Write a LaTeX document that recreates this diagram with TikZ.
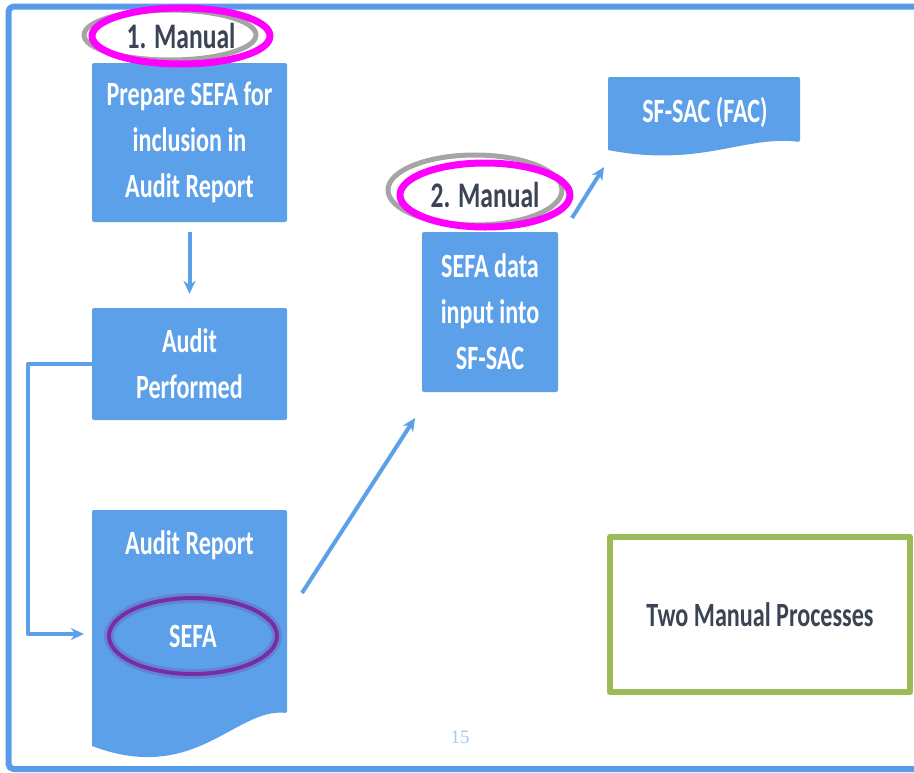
\documentclass[tikz,border=0pt]{standalone}
\usepackage{fontspec}
\setmainfont{Carlito}
\newfontfamily\boxfont[FakeStretch=0.71]{Carlito}
\newfontfamily\numfont{Liberation Serif}
\usetikzlibrary{shapes.geometric,arrows.meta}
\definecolor{boxblue}{RGB}{93,160,234}
\definecolor{frameblue}{RGB}{88,155,232}
\definecolor{inkgray}{RGB}{59,68,84}
\definecolor{ringpink}{RGB}{255,0,255}
\definecolor{ringgray}{RGB}{165,165,165}
\definecolor{ringpurple}{RGB}{118,46,160}
\definecolor{boxgreen}{RGB}{155,187,89}
\definecolor{pagenum}{RGB}{170,200,240}
\begin{document}
\begin{tikzpicture}[x=1pt, y=-1pt, >={Stealth[length=13pt,width=12pt]}, line join=round,
	stepbox/.style={fill=boxblue, rounded corners=2pt, text=white, align=center, inner sep=0,
		font=\boxfont\bfseries\fontsize{34}{46}\selectfont},
	doclabel/.style={text=white, align=center, inner sep=0, font=\boxfont\bfseries\fontsize{34}{46}\selectfont},
	flow/.style={draw=boxblue, line width=4pt},
	shadowring/.style={ellipse, draw=ringgray, line width=5pt, inner sep=0},
	manualring/.style={ellipse, draw=ringpink, line width=7pt, inner sep=0, text=inkgray,
		font=\boxfont\bfseries\fontsize{36}{40}\selectfont}]
	\useasboundingbox (0,0) rectangle (914,772);
	\fill[white] (0,0) rectangle (914,772);
	\draw[frameblue, line width=6pt, rounded corners=5pt] (8.5,6.5) rectangle (940,769);
	
	\node[stepbox, minimum width=195, minimum height=159] (prep) at (189.5,142.5) {Prepare SEFA for\\inclusion in\\Audit Report};
	\node[stepbox, minimum width=195, minimum height=112] (perf) at (189.5,364) {Audit\\Performed};
	\node[stepbox, minimum width=136, minimum height=160] (input) at (490,312) {SEFA data\\input into\\SF-SAC};
	
	\fill[boxblue, rounded corners=2pt] (92,746) -- (92,510) -- (287,510) -- (287,713) [sharp corners] .. controls (235,708) and (195,785) .. (92,746) -- cycle;
	\node[doclabel] (report) at (189.5,545) {Audit Report};
	\draw[ringpurple, opacity=0.25, line width=10pt] (193,636) ellipse (84 and 38);
	\node[ellipse, draw=ringpurple, line width=4pt, minimum width=168, minimum height=76, doclabel] (sefa) at (193,636) {SEFA};
	
	\fill[boxblue, rounded corners=2pt] (608,150) -- (608,77) -- (800,77) -- (800,142) [sharp corners] .. controls (745,135) and (700,168) .. (608,150) -- cycle;
	\node[doclabel] (fac) at (705,112) {SF-SAC (FAC)};
	
	\node[shadowring, minimum width=172, minimum height=50] (ring1) at (170,35) {};
	\node[manualring, minimum width=178, minimum height=56] (man1) at (181,36) {1. Manual};
	\node[shadowring, minimum width=174, minimum height=70] (ring2) at (475,190) {};
	\node[manualring, minimum width=170, minimum height=64] (man2) at (485,195) {2. Manual};
	
	\node[draw=boxgreen, line width=6pt, minimum width=300, minimum height=155, text=inkgray,
		font=\boxfont\bfseries\fontsize{34}{38}\selectfont] (note) at (760,614.5) {Two Manual Processes};
	\node[text=pagenum, font=\numfont\fontsize{19}{22}\selectfont] (page) at (460,737) {15};
	
	\coordinate (inlet) at (84,634);
	\coordinate (d1) at (302,593);
	\coordinate (d2) at (415,418);
	\coordinate (s1) at (572,218);
	\coordinate (s2) at (604,167);
	
	\draw[flow, ->, shorten <=10pt, shorten >=14pt] (prep) -- (perf);
	\draw[flow, ->] (perf.west) -- ++(-64,0) |- (inlet);
	\draw[flow, ->] (d1) -- (d2);
	\draw[flow, ->] (s1) -- (s2);
\end{tikzpicture}
\end{document}
